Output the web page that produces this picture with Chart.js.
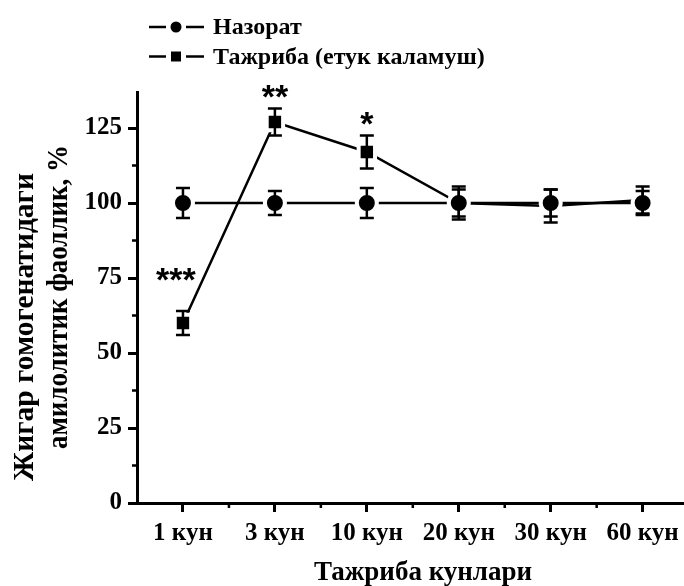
<!DOCTYPE html>
<html>
<head>
<meta charset="utf-8">
<script src="https://cdn.jsdelivr.net/npm/chart.js@4.4.0/dist/chart.umd.min.js"></script>
<style>
  html, body { margin: 0; padding: 0; background: #fff; }
  #wrap { width: 684px; height: 586px; }
</style>
</head>
<body>
<div id="wrap"><canvas id="chart" width="684" height="586"></canvas></div>
<script>
// данные
const days = ["1 кун", "3 кун", "10 кун", "20 кун", "30 кун", "60 кун"];
const control = [100, 100, 100, 100, 100, 100];
const controlErr = [5, 4, 5, 4.5, 4.5, 4];
const experiment = [60, 127, 117, 100, 99, 101];
const experimentErr = [4, 4.5, 5.5, 5.5, 5.5, 4.5];
const experimentStars = ["***", "**", "*", "", "", ""];
const yTicks = [0, 25, 50, 75, 100, 125];
const seriesNames = ["Назорат", "Тажриба (етук каламуш)"];
const xTitle = "Тажриба кунлари";
const yTitle = ["Жигар гомогенатидаги", "амилолитик фаоллик, %"];

const SERIF = "'Liberation Serif', 'Times New Roman', serif";
const SANS = "'Liberation Sans', Arial, sans-serif";
const errs = [controlErr, experimentErr];

// усы с засечками + звёздочки
const errorBars = {
  id: "errorBars",
  afterDatasetsDraw(chart) {
    const { ctx } = chart;
    const y = chart.scales.y;
    ctx.save();
    ctx.strokeStyle = "#000";
    ctx.lineWidth = 2.5;
    chart.data.datasets.forEach((ds, di) => {
      chart.getDatasetMeta(di).data.forEach((pt, i) => {
        const v = ds.data[i].y;
        const top = y.getPixelForValue(v + errs[di][i]);
        const bot = y.getPixelForValue(v - errs[di][i]);
        ctx.beginPath();
        ctx.moveTo(pt.x, top); ctx.lineTo(pt.x, bot);
        ctx.moveTo(pt.x - 7, top); ctx.lineTo(pt.x + 7, top);
        ctx.moveTo(pt.x - 7, bot); ctx.lineTo(pt.x + 7, bot);
        ctx.stroke();
      });
    });
    const meta = chart.getDatasetMeta(1);
    const size = 34;
    ctx.fillStyle = "#000";
    ctx.font = "bold " + size + "px " + SANS;
    ctx.textAlign = "center";
    ctx.textBaseline = "alphabetic";
    meta.data.forEach((pt, i) => {
      if (!experimentStars[i]) return;
      let cx = pt.x;
      let cy = y.getPixelForValue(experiment[i] + experimentErr[i]) - 14;
      if (i === 0) { cx -= 7; cy -= 20; }
      ctx.fillText(experimentStars[i], cx, cy + size * 0.4);
    });
    ctx.restore();
  },
  afterDraw(chart) {
    const { ctx, chartArea } = chart;
    const x = chart.scales.x, y = chart.scales.y;
    ctx.save();
    ctx.strokeStyle = "#000";
    ctx.lineWidth = 2.5;
    ctx.beginPath();
    // промежуточные деления
    for (let i = 0; i < yTicks.length - 1; i++) {
      const py = y.getPixelForValue((yTicks[i] + yTicks[i + 1]) / 2);
      ctx.moveTo(chartArea.left - 5, py); ctx.lineTo(chartArea.left, py);
    }
    for (let i = 0; i < days.length; i++) {
      const px = x.getPixelForValue(i + 0.5);
      ctx.moveTo(px, chartArea.bottom); ctx.lineTo(px, chartArea.bottom + 5);
    }
    ctx.stroke();

    // подписи осей
    ctx.fillStyle = "#000";
    ctx.textAlign = "center";
    ctx.textBaseline = "alphabetic";
    ctx.font = "bold 27px " + SERIF;
    ctx.fillText(xTitle, 423, 580);
    ctx.font = "bold 29.5px " + SERIF;
    ctx.save();
    ctx.translate(33, 327); ctx.rotate(-Math.PI / 2);
    ctx.fillText(yTitle[0], 0, 0, 311);
    ctx.restore();
    ctx.save();
    ctx.translate(67, 297); ctx.rotate(-Math.PI / 2);
    ctx.fillText(yTitle[1], 0, 0, 304);
    ctx.restore();

    // легенда
    ctx.font = "bold 24px " + SERIF;
    ctx.textAlign = "left";
    ctx.lineWidth = 2.5;
    seriesNames.forEach((name, k) => {
      const ly = 27 + k * 29.5;
      ctx.beginPath();
      ctx.moveTo(149, ly); ctx.lineTo(166, ly);
      ctx.moveTo(186, ly); ctx.lineTo(204, ly);
      ctx.stroke();
      ctx.beginPath();
      if (k === 0) ctx.arc(176, ly, 5.5, 0, Math.PI * 2);
      else ctx.rect(171, ly - 5, 10, 10);
      ctx.fill();
      ctx.fillText(name, 213, ly + 7);
    });
    ctx.restore();
  },
};

const axisCommon = {
  border: { display: true, color: "#000", width: 3 },
  grid: { drawOnChartArea: false, drawTicks: true, tickLength: 9, tickWidth: 3, tickColor: "#000" },
};

new Chart(document.getElementById("chart"), {
  type: "line",
  data: {
    datasets: [
      {
        label: seriesNames[0],
        data: control.map((v, i) => ({ x: i, y: v })),
        borderColor: "#000",
        borderWidth: 2.5,
        pointStyle: "circle",
        pointRadius: 10,
        pointBorderWidth: 4,
        pointBorderColor: "#fff",
        pointBackgroundColor: "#000",
        order: 0,
      },
      {
        label: seriesNames[1],
        data: experiment.map((v, i) => ({ x: i, y: v })),
        borderColor: "#000",
        borderWidth: 2.5,
        pointStyle: "rect",
        pointRadius: 11.6,
        pointBorderWidth: 4,
        pointBorderColor: "#fff",
        pointBackgroundColor: "#000",
        order: 1,
      },
    ],
  },
  options: {
    responsive: false,
    animation: false,
    layout: { autoPadding: false, padding: { top: 92, right: 0, left: 0, bottom: 0 } },
    scales: {
      x: {
        type: "linear",
        min: -0.5,
        max: 5.45,
        ...axisCommon,
        afterBuildTicks: (s) => { s.ticks = days.map((d, i) => ({ value: i })); },
        afterFit: (s) => { s.height = 83; s.paddingLeft = 0; s.paddingRight = 0; },
        ticks: {
          color: "#000",
          padding: 7,
          maxRotation: 0,
          font: { family: SERIF, size: 25, weight: "bold" },
          callback: (v) => days[v],
        },
      },
      y: {
        min: 0,
        max: 137,
        ...axisCommon,
        afterBuildTicks: (s) => { s.ticks = yTicks.map((v) => ({ value: v })); },
        afterFit: (s) => { s.width = 137; s.paddingTop = 0; s.paddingBottom = 0; },
        ticks: {
          color: "#000",
          padding: 6,
          font: { family: SERIF, size: 25, weight: "bold" },
        },
      },
    },
    plugins: {
      legend: { display: false },
      tooltip: { enabled: false },
    },
  },
  plugins: [errorBars],
});
</script>
</body>
</html>
